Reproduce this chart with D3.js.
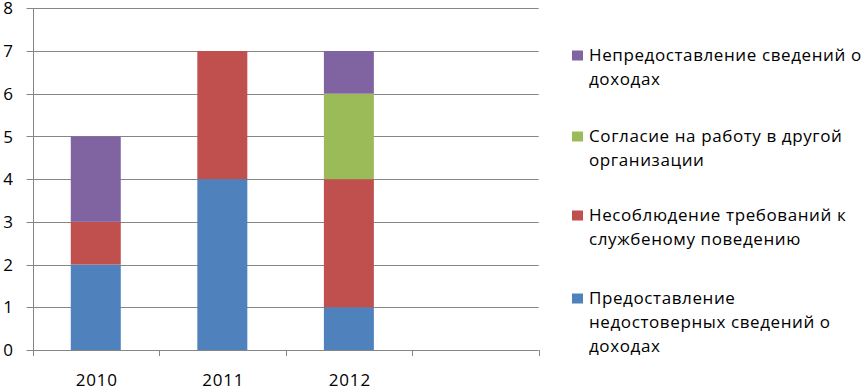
<!DOCTYPE html>
<html><head><meta charset="utf-8">
<script src="https://cdn.jsdelivr.net/npm/d3@7/dist/d3.min.js"></script>
<style>body{margin:0;background:#fff}svg{display:block}text{font-family:"Open Sans",Lato,sans-serif;fill:#000}</style>
</head><body><svg id="c" width="862" height="389"></svg>
<script>
const categories = ["2010", "2011", "2012", ""];
const seriesNames = [
  "Предоставление недостоверных сведений о доходах",
  "Несоблюдение требований к службеному поведению",
  "Согласие на работу в другой организации",
  "Непредоставление сведений о доходах"
];
const legendLines = [
  ["Предоставление", "недостоверных сведений о", "доходах"],
  ["Несоблюдение требований к", "службеному поведению"],
  ["Согласие на работу в другой", "организации"],
  ["Непредоставление сведений о", "доходах"]
];
const seriesColors = ["#4F81BD", "#C0504D", "#9BBB59", "#8064A2"];
const blueValues   = [2, 4, 1, null];
const redValues    = [1, 3, 3, null];
const greenValues  = [0, 0, 2, null];
const purpleValues = [2, 0, 1, null];
const yTicks = [0, 1, 2, 3, 4, 5, 6, 7, 8];

(function () {
const allSeries = [blueValues, redValues, greenValues, purpleValues];
const rows = categories.map((c, i) => {
  const r = {idx: i};
  allSeries.forEach((s, k) => r["s" + k] = s[i] || 0);
  return r;
});
const keys = allSeries.map((s, k) => "s" + k);
const stacked = d3.stack().keys(keys)(rows);

const svg = d3.select("#c");
const pL = 32.5, pR = 538.7, pT = 8.3, pB = 350;
const x = d3.scaleBand().domain(categories.map((c, i) => i)).range([pL, pR]).paddingInner(0.605).paddingOuter(0.3025);
const y = d3.scaleLinear().domain([0, 8]).range([pB, pT]);

svg.append("g").selectAll("line").data(yTicks).join("line")
  .attr("x1", pL - 6).attr("x2", pR)
  .attr("y1", d => Math.round(y(d)) + 0.5).attr("y2", d => Math.round(y(d)) + 0.5)
  .attr("stroke", "#868686").attr("stroke-width", 1);

svg.append("g").selectAll("g").data(stacked).join("g")
  .attr("fill", (d, k) => seriesColors[k])
  .selectAll("rect").data(d => d.filter(p => p[1] > p[0])).join("rect")
  .attr("x", p => x(p.data.idx))
  .attr("width", x.bandwidth())
  .attr("y", p => y(p[1]))
  .attr("height", p => y(p[0]) - y(p[1]));

svg.append("line").attr("x1", Math.round(pL) + 0.5).attr("x2", Math.round(pL) + 0.5).attr("y1", pT).attr("y2", pB + 6)
  .attr("stroke", "#868686");
const xt = d3.range(categories.length + 1).map(i => pL + i * (pR - pL) / categories.length);
svg.append("g").selectAll("line").data(xt).join("line")
  .attr("x1", d => Math.round(d) + 0.5).attr("x2", d => Math.round(d) + 0.5)
  .attr("y1", pB).attr("y2", pB + 6).attr("stroke", "#868686");

svg.append("g").selectAll("text").data(yTicks).join("text")
  .attr("x", 13).attr("y", d => y(d)).attr("dy", "0.36em")
  .attr("text-anchor", "end").attr("font-size", 17).text(d => d);

svg.append("g").selectAll("text").data(categories).join("text")
  .attr("x", (c, i) => x(i) + x.bandwidth() / 2 + 1).attr("y", 386)
  .attr("text-anchor", "middle").attr("font-size", 17).attr("letter-spacing", 0.8).text(c => c);

const legStart = [298, 215, 136, 55];
const lg = svg.append("g");
seriesNames.forEach((n, k) => {
  const g = lg.append("g").attr("transform", `translate(572,${legStart[k]})`);
  g.append("rect").attr("x", 0).attr("y", -4.5).attr("width", 11).attr("height", 10).attr("fill", seriesColors[k]);
  g.selectAll("text").data(legendLines[k]).join("text")
    .attr("x", 17).attr("y", (d, j) => j * 24).attr("dy", "0.36em")
    .attr("font-size", 17).attr("letter-spacing", 0.6).text(d => d);
});
})();
</script></body></html>
